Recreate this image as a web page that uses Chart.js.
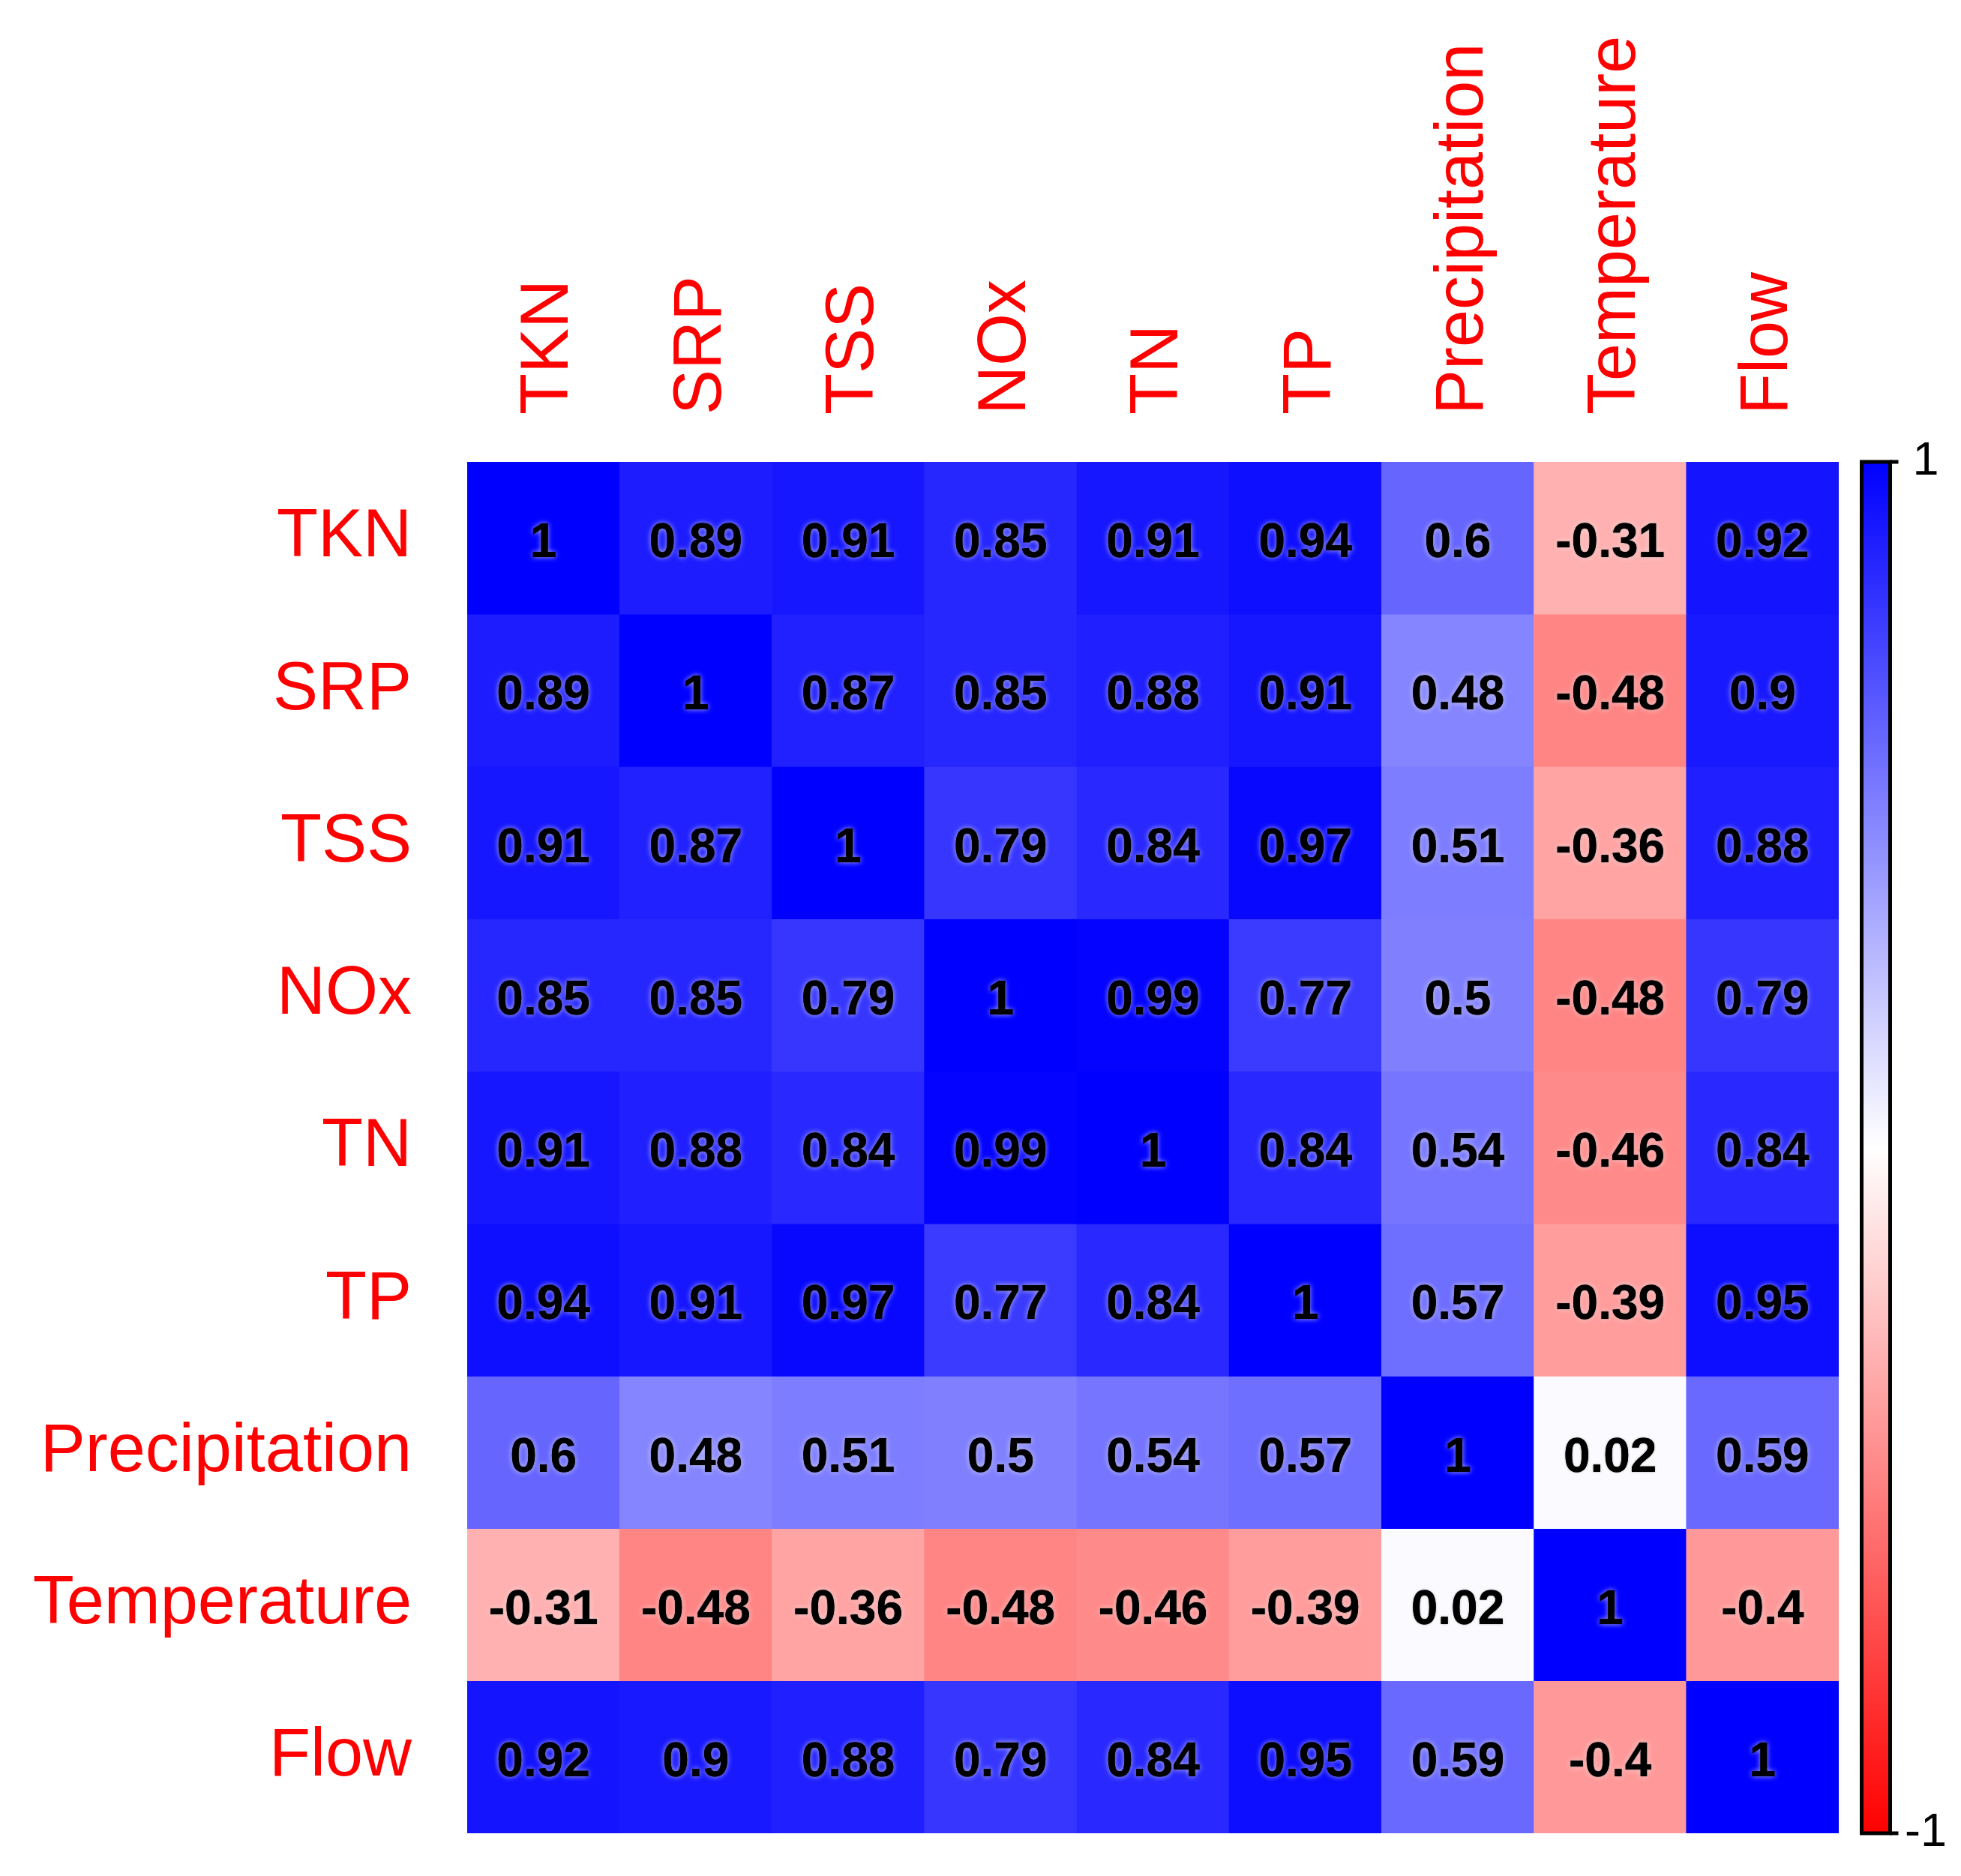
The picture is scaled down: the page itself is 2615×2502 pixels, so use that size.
<!DOCTYPE html>
<html>
<head>
<meta charset="utf-8">
<title>Correlation matrix</title>
<script src="https://cdn.jsdelivr.net/npm/chart.js@4.4.1/dist/chart.umd.min.js"></script>
<style>
  html, body { margin: 0; padding: 0; background: #ffffff; }
  #wrap { width: 2615px; height: 2502px; }
</style>
</head>
<body>
<div id="wrap"><canvas id="corr" width="2615" height="2502"></canvas></div>
<script>
const variables = ['TKN', 'SRP', 'TSS', 'NOx', 'TN', 'TP', 'Precipitation', 'Temperature', 'Flow'];

// one row of the correlation matrix per variable
const tknRow = [1, 0.89, 0.91, 0.85, 0.91, 0.94, 0.6, -0.31, 0.92];
const srpRow = [0.89, 1, 0.87, 0.85, 0.88, 0.91, 0.48, -0.48, 0.9];
const tssRow = [0.91, 0.87, 1, 0.79, 0.84, 0.97, 0.51, -0.36, 0.88];
const noxRow = [0.85, 0.85, 0.79, 1, 0.99, 0.77, 0.5, -0.48, 0.79];
const tnRow = [0.91, 0.88, 0.84, 0.99, 1, 0.84, 0.54, -0.46, 0.84];
const tpRow = [0.94, 0.91, 0.97, 0.77, 0.84, 1, 0.57, -0.39, 0.95];
const precipRow = [0.6, 0.48, 0.51, 0.5, 0.54, 0.57, 1, 0.02, 0.59];
const tempRow = [-0.31, -0.48, -0.36, -0.48, -0.46, -0.39, 0.02, 1, -0.4];
const flowRow = [0.92, 0.9, 0.88, 0.79, 0.84, 0.95, 0.59, -0.4, 1];

const colorbarTicks = [-1, 1];

const matrix = [tknRow, srpRow, tssRow, noxRow, tnRow, tpRow, precipRow, tempRow, flowRow];

// red (-1) -> white (0) -> blue (1)
function corrColor(v) {
    const t = Math.min(1, Math.abs(v));
    const c = Math.round(255 * (1 - t));
    return v >= 0 ? `rgb(${c},${c},255)` : `rgb(255,${c},${c})`;
}

Chart.defaults.font.family = "'Liberation Sans', Arial, Helvetica, sans-serif";

const datasets = matrix.map((row, r) => ({
    label: variables[r],
    data: row.map(() => [r, r + 1]),
    values: row,
    backgroundColor: row.map(corrColor),
    borderWidth: 0,
    grouped: false,
    barPercentage: 1,
    categoryPercentage: 1,
    yAxisID: 'y'
}));

// the vertical axes should not push the plot area in
const noEdgePadding = s => {
    s.paddingTop = 0;
    s.paddingBottom = 0;
};

// correlation value written in each cell, with a soft light halo
const cellText = {
    id: 'cellText',
    afterDatasetsDraw(chart) {
        const ctx = chart.ctx;
        const passes = [
            { shadow: 'rgba(255,255,255,0.75)', blur: 7 },
            { shadow: 'rgba(0,0,0,0.35)', blur: 3 }
        ];
        ctx.save();
        ctx.font = "bold 64px 'Liberation Sans', Arial, sans-serif";
        ctx.textAlign = 'center';
        ctx.textBaseline = 'middle';
        ctx.fillStyle = '#000000';
        passes.forEach(pass => {
            ctx.shadowColor = pass.shadow;
            ctx.shadowBlur = pass.blur;
            chart.data.datasets.forEach((ds, r) => {
                chart.getDatasetMeta(r).data.forEach((bar, c) => {
                    const p = bar.getProps(['x', 'y', 'base'], true);
                    ctx.fillText(String(ds.values[c]), p.x, (p.y + p.base) / 2 + 8);
                });
            });
        });
        ctx.restore();
    }
};

// vertical colour key on the right
const colorBar = {
    id: 'colorBar',
    afterDraw(chart) {
        const s = chart.scales.cb;
        const ctx = chart.ctx;
        const top = s.getPixelForValue(1);
        const bottom = s.getPixelForValue(-1);
        const left = s.left + 30.5;
        const right = left + 38;
        const g = ctx.createLinearGradient(0, top, 0, bottom);
        g.addColorStop(0, corrColor(1));
        g.addColorStop(0.5, corrColor(0));
        g.addColorStop(1, corrColor(-1));
        ctx.save();
        ctx.fillStyle = g;
        ctx.fillRect(left, top, right - left, bottom - top);
        ctx.strokeStyle = '#000000';
        ctx.lineWidth = 5;
        ctx.strokeRect(left, top, right - left, bottom - top);
        ctx.beginPath();
        colorbarTicks.forEach(v => {
            const y = s.getPixelForValue(v);
            ctx.moveTo(right, y);
            ctx.lineTo(right + 11, y);
        });
        ctx.stroke();
        ctx.restore();
    }
};

new Chart(document.getElementById('corr'), {
    type: 'bar',
    data: {
        labels: variables,
        datasets: datasets
    },
    options: {
        responsive: false,
        animation: false,
        devicePixelRatio: 1,
        layout: { padding: { top: 0, left: 0, right: 0, bottom: 57 } },
        plugins: {
            legend: { display: false },
            tooltip: { enabled: false }
        },
        scales: {
            x: {
                type: 'category',
                position: 'top',
                offset: true,
                grid: { display: false, drawTicks: false },
                border: { display: false },
                ticks: {
                    autoSkip: false,
                    minRotation: 90,
                    maxRotation: 90,
                    padding: 63,
                    labelOffset: 116,
                    color: '#ff0000',
                    font: { size: 90 }
                },
                afterFit: s => { s.height = 616; }
            },
            y: {
                type: 'linear',
                position: 'left',
                min: 0,
                max: 9,
                reverse: true,
                grid: { display: false, drawTicks: false },
                border: { display: false },
                afterBuildTicks: s => {
                    s.ticks = variables.map((_, i) => ({ value: i + 0.5 }));
                },
                ticks: {
                    padding: 74,
                    color: '#ff0000',
                    font: { size: 90 },
                    callback: value => variables[Math.floor(value)]
                },
                afterFit: s => {
                    s.width = 623;
                    noEdgePadding(s);
                }
            },
            cb: {
                type: 'linear',
                position: 'right',
                min: -1,
                max: 1,
                grid: { display: false, drawTicks: false },
                border: { display: false },
                afterBuildTicks: s => {
                    s.ticks = colorbarTicks.map(v => ({ value: v }));
                },
                ticks: {
                    padding: 88,
                    crossAlign: 'center',
                    color: '#000000',
                    font: { size: 63 },
                    callback: value => String(value)
                },
                afterFit: s => {
                    s.width = 163;
                    noEdgePadding(s);
                }
            }
        }
    },
    plugins: [cellText, colorBar]
});
</script>
</body>
</html>
